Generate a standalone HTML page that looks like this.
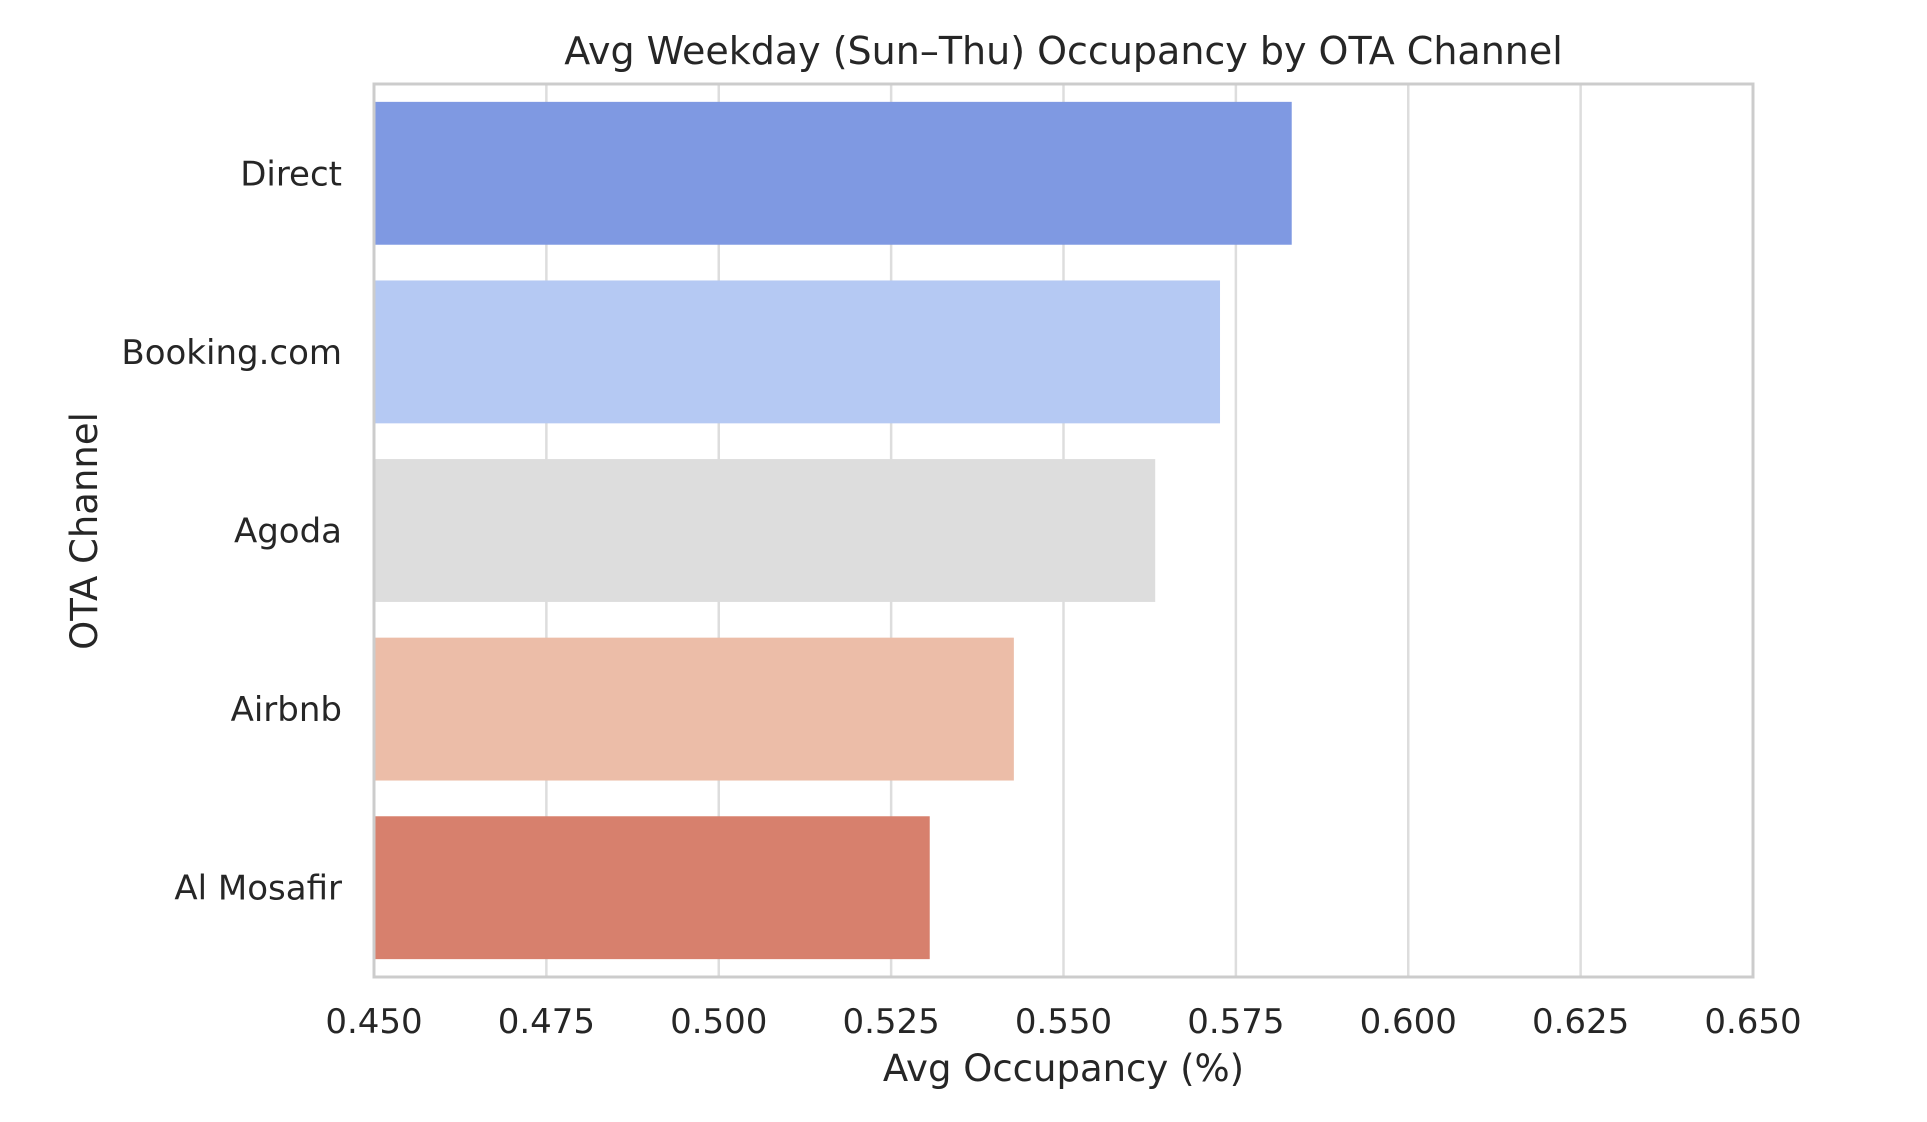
<!DOCTYPE html>
<html><head><meta charset="utf-8"><style>
html,body{margin:0;padding:0;background:#fff;}
svg text{font-family:"DejaVu Sans","Liberation Sans",sans-serif;fill:#262626;}
</style></head><body>
<svg id="chart" width="1927" height="1117" viewBox="0 0 1927 1117" xmlns="http://www.w3.org/2000/svg"></svg>
<script>
const categories = ["Direct","Booking.com","Agoda","Airbnb","Al Mosafir"];
const values = [0.5831,0.5727,0.5633,0.5428,0.5306];
const colors = ["#7f99e2","#b5c9f3","#dddddd","#ecbda8","#d7806d"];
const xTicks = [0.450,0.475,0.500,0.525,0.550,0.575,0.600,0.625,0.650];

const svg = document.getElementById('chart');
const NS = 'http://www.w3.org/2000/svg';
const L=374,R=1753,T=84,B=977, xMin=0.45, xMax=0.65;
function x(v){return L+(v-xMin)/(xMax-xMin)*(R-L);}
const band=(B-T)/categories.length;
function yc(i){return T+band*(i+0.5);}
function mk(tag,attrs,parent){const e=document.createElementNS(NS,tag);for(const k in attrs)e.setAttribute(k,attrs[k]);(parent||svg).appendChild(e);return e;}

const grid=mk('g',{});


xTicks.forEach(t=>{mk('line',{x1:x(t),x2:x(t),y1:T,y2:B,stroke:'#dddddd','stroke-width':2.5},grid);});

const bars=mk('g',{});


categories.forEach((c,i)=>{
  const r=mk('rect',{x:x(xMin),y:yc(i)-band*0.4,width:x(values[i])-x(xMin),height:band*0.8,fill:colors[i]},bars);
  
  
  const t=mk('text',{x:342,y:yc(i)+12,'text-anchor':'end','font-size':34});
  t.textContent=c;
  
  
});

const frame=mk('rect',{x:L,y:T,width:R-L,height:B-T,fill:'none',stroke:'#cccccc','stroke-width':3});



xTicks.forEach(t=>{
  const e=mk('text',{x:x(t),y:1033,'text-anchor':'middle','font-size':34});
  e.textContent=t.toFixed(3);
  
  
});

const xl=mk('text',{x:(L+R)/2,y:1081,'text-anchor':'middle','font-size':37});
xl.textContent='Avg Occupancy (%)';



const yl=mk('text',{x:0,y:0,'text-anchor':'middle','font-size':37,transform:'translate(97,531) rotate(-90)'});
yl.textContent='OTA Channel';



const ti=mk('text',{x:(L+R)/2,y:64,'text-anchor':'middle','font-size':38});
ti.textContent='Avg Weekday (Sun–Thu) Occupancy by OTA Channel';


</script>
</body></html>
